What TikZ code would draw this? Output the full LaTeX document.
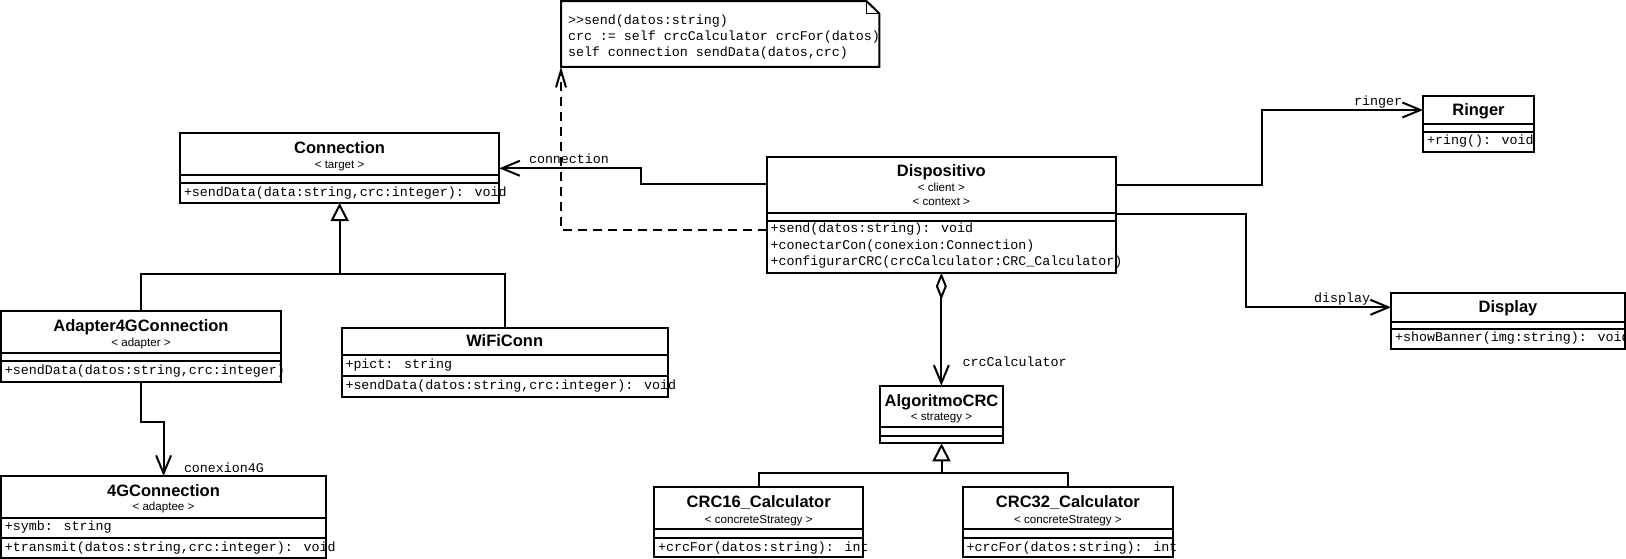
\documentclass[tikz,border=0pt]{standalone}
\usepackage{fontspec}
\newfontfamily\umlsans{Liberation Sans}
\newfontfamily\umlmono{Liberation Mono}
\usetikzlibrary{arrows.meta,calc}

\tikzset{
  classbox/.style={draw, inner sep=0pt, outer sep=0pt, anchor=north west},
  cname/.style={font={\umlsans\bfseries\fontsize{16.5}{18}\selectfont}, inner sep=0pt, anchor=base},
  cstereo/.style={font={\umlsans\fontsize{11.6}{13}\selectfont}, inner sep=0pt, anchor=base},
  member/.style={font={\umlmono\fontsize{13.33}{16}\selectfont}, inner sep=0pt, anchor=base west},
  role/.style={font={\umlmono\fontsize{13.33}{16}\selectfont}, inner sep=0pt},
  assoc/.style={-{Straight Barb[length=18pt,width=15pt]}},
  inherit/.style={-{Triangle[length=18pt,width=18pt,fill=white]}},
  aggreg/.style={{Diamond[length=27pt,width=11pt,fill=white]}-{Straight Barb[length=18pt,width=15pt]}},
  depend/.style={dash pattern=on 9pt off 6pt, -{Straight Barb[length=17pt,width=10pt]}},
}

% class frame: name, left, top, right, bottom, first divider, second divider
\newcommand{\umlclass}[7]{%
  \node[classbox, minimum width=#4-#2, minimum height=#5-#3] (#1) at (#2,#3) {};
  \draw (#2,#6) -- (#4,#6);
  \draw (#2,#7) -- (#4,#7);
}

\begin{document}
\begin{tikzpicture}[x=1pt, y=-1pt, line width=2pt]
\useasboundingbox (0,0) rectangle (1626,559);

% ---------- note ----------
\node[inner sep=0pt, outer sep=0pt, minimum width=318.3, minimum height=65.7, anchor=north west] (note) at (561,1.2) {};
\draw (note.north west) -- ($(note.north east)+(-12.6,0)$) -- ($(note.north east)+(0,12.3)$)
      -- (note.south east) -- (note.south west) -- cycle;
\draw[line width=0.8pt] ($(note.north east)+(-12.6,0)$) -- ($(note.north east)+(-12.6,12.3)$) -- ($(note.north east)+(0,12.3)$);
\node[member] (note1) at (567,25) {>{}>send(datos:string)};
\node[member] (note2) at (567,41) {crc := self crcCalculator crcFor(datos)};
\node[member] (note3) at (567,57) {self connection sendData(datos,crc)};

% ---------- Connection ----------
\umlclass{conn}{180}{133.3}{499.3}{203}{175}{183}
\node[cname] (connN) at (339.6,153.3) {Connection};
\node[cstereo] (connS) at (339.6,168.3) {< target >};
\node[member] (connOp) at (183,196.5) {+sendData(data:string,crc:integer): void};

% ---------- Adapter4GConnection ----------
\umlclass{adapter}{1.2}{311}{281}{381.7}{352.7}{360.7}
\node[cname] (adapterN) at (141,331) {Adapter4GConnection};
\node[cstereo] (adapterS) at (141,346.3) {< adapter >};
\node[member] (adapterOp) at (4,374.5) {+sendData(datos:string,crc:integer)};

% ---------- WiFiConn ----------
\umlclass{wifi}{341.7}{327.7}{667.7}{396.7}{355}{376}
\node[cname] (wifiN) at (504.7,346.7) {WiFiConn};
\node[member] (wifiAt) at (344.5,368.5) {+pict: string};
\node[member] (wifiOp) at (344.5,389.5) {+sendData(datos:string,crc:integer): void};

% ---------- 4GConnection ----------
\umlclass{gfour}{1.2}{476}{326}{557.8}{517.7}{537.7}
\node[cname] (gfourN) at (163.5,496.5) {4GConnection};
\node[cstereo] (gfourS) at (163.5,510.7) {< adaptee >};
\node[member] (gfourAt) at (4,530.5) {+symb: string};
\node[member] (gfourOp) at (4,551) {+transmit(datos:string,crc:integer): void};

% ---------- Dispositivo ----------
\umlclass{disp}{766.7}{157.3}{1116}{272.7}{212.7}{220.7}
\node[cname] (dispN) at (941.3,176.5) {Dispositivo};
\node[cstereo] (dispS1) at (941.3,191.5) {< client >};
\node[cstereo] (dispS2) at (941.3,205.5) {< context >};
\node[member] (dispOp1) at (769.5,233) {+send(datos:string): void};
\node[member] (dispOp2) at (769.5,249) {+conectarCon(conexion:Connection)};
\node[member] (dispOp3) at (769.5,265.3) {+configurarCRC(crcCalculator:CRC\_Calculator)};

% ---------- AlgoritmoCRC ----------
\umlclass{algo}{880.3}{385.7}{1002.7}{443.3}{427.3}{435.7}
\node[cname] (algoN) at (941.5,406.5) {AlgoritmoCRC};
\node[cstereo] (algoS) at (941.5,420) {< strategy >};

% ---------- CRC16_Calculator ----------
\umlclass{crcA}{654}{487}{863.3}{557}{529}{537.5}
\node[cname] (crcAN) at (758.7,507) {CRC16\_Calculator};
\node[cstereo] (crcAS) at (758.7,523) {< concreteStrategy >};
\node[member] (crcAOp) at (657,551) {+crcFor(datos:string): int};

% ---------- CRC32_Calculator ----------
\umlclass{crcB}{962.7}{487}{1173}{557}{529}{537.5}
\node[cname] (crcBN) at (1067.9,507) {CRC32\_Calculator};
\node[cstereo] (crcBS) at (1067.9,523) {< concreteStrategy >};
\node[member] (crcBOp) at (965.7,551) {+crcFor(datos:string): int};

% ---------- Ringer ----------
\umlclass{ringer}{1423}{96}{1534}{152}{124}{131.7}
\node[cname] (ringerN) at (1478.5,115.7) {Ringer};
\node[member] (ringerOp) at (1426,144.5) {+ring(): void};

% ---------- Display ----------
\umlclass{display}{1391}{293.3}{1625}{349}{321.7}{329.3}
\node[cname] (displayN) at (1508,312.3) {Display};
\node[member] (displayOp) at (1394,341.5) {+showBanner(img:string): void};

% ---------- connectors ----------
% Dispositivo -> Connection
\draw[assoc] ($(disp.north west)+(0,26.7)$) -- ++(-125.7,0) |- ($(conn.north east)+(0,35)$);
\node[role, anchor=base west] (lblConn) at (528,164) {connection};

% Dispositivo -> Ringer
\draw[assoc] ($(disp.north east)+(0,27.7)$) -- ++(146,0) |- ($(ringer.north west)+(0,14)$);
\node[role, anchor=base east] (lblRinger) at (1403,106) {ringer};

% Dispositivo -> Display
\draw[assoc] ($(disp.north east)+(0,56.7)$) -- ++(130,0) |- ($(display.north west)+(0,14)$);
\node[role, anchor=base east] (lblDisplay) at (1371,302.7) {display};

% Dispositivo <>-> AlgoritmoCRC
\draw[aggreg] (disp.south) -- (disp.south |- algo.north);
\node[role, anchor=base west] (lblCrc) at (961.7,366) {crcCalculator};

% Adapter4GConnection -> 4GConnection
\draw[assoc] (adapter.south) -- ++(0,40) -| (gfour.north);
\node[role, anchor=base west] (lblGfour) at (183,472) {conexion4G};

% generalisation of Connection
\coordinate (connJoin) at ($(conn.south)+(0,71)$);
\draw (adapter.north) |- (connJoin) -| (wifi.north);
\draw[inherit] (connJoin) -- (conn.south);

% generalisation of AlgoritmoCRC
\coordinate (algoJoin) at ($(algo.south)+(0,29.4)$);
\draw (crcA.north) |- (algoJoin) -| (crcB.north);
\draw[inherit] (algoJoin) -- (algo.south);

% send() note attachment
\draw[depend] ($(disp.north west)+(0,72.7)$) -| (note.south west);

\end{tikzpicture}
\end{document}
